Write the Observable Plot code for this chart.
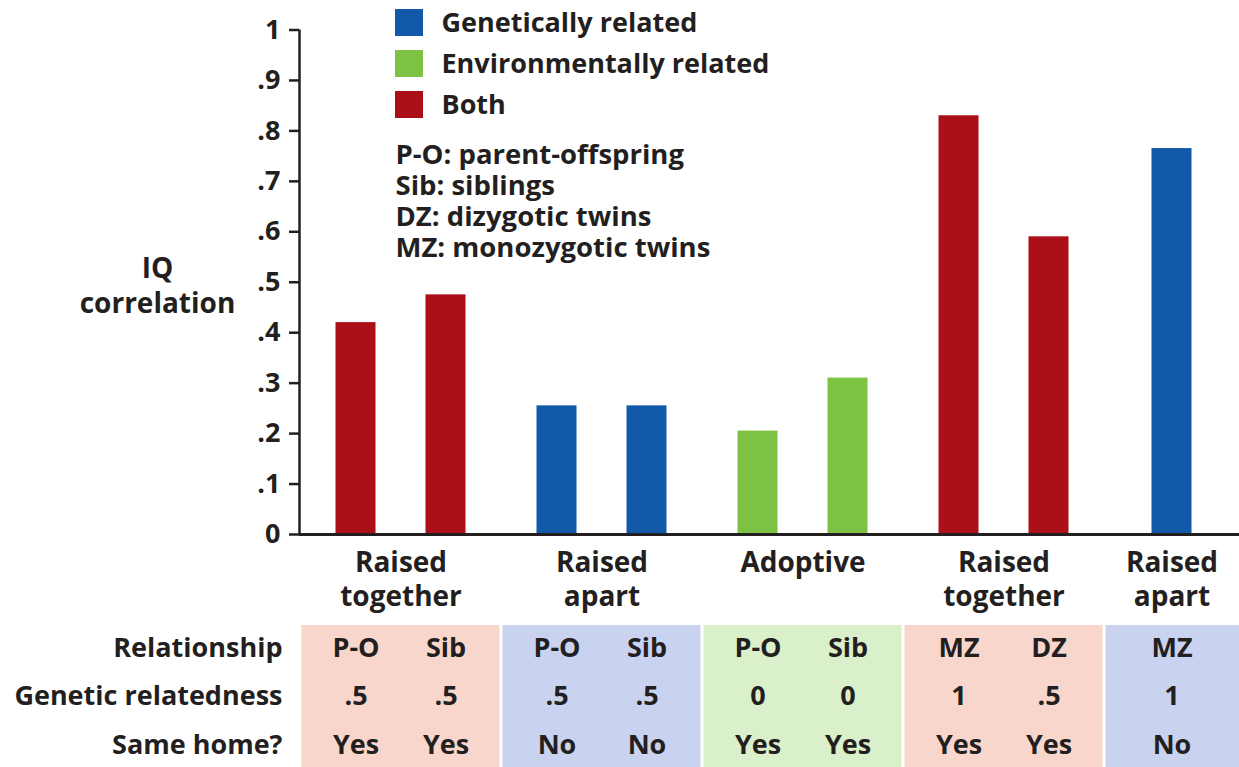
<!DOCTYPE html>
<html>
<head>
<meta charset="utf-8">
<script src="https://cdn.jsdelivr.net/npm/d3@7"></script>
<script src="https://cdn.jsdelivr.net/npm/@observablehq/plot@0.6"></script>
<style>
  html, body { margin: 0; padding: 0; background: #fff; }
  #chart svg text { font-weight: 700; }
</style>
</head>
<body>
<div id="chart"></div>
<script>
// ---------------- data ----------------
const groups = ["Raised\ntogether", "Raised\napart", "Adoptive", "Raised\ntogether", "Raised\napart"];
const groupKind = ["Both", "Genetically related", "Environmentally related", "Both", "Genetically related"];
const relationship = ["P-O", "Sib", "P-O", "Sib", "P-O", "Sib", "MZ", "DZ", "MZ"];
const barGroup = [0, 0, 1, 1, 2, 2, 3, 3, 4];
const correlation = [0.42, 0.475, 0.255, 0.255, 0.205, 0.31, 0.83, 0.59, 0.765];
const geneticRelatedness = [".5", ".5", ".5", ".5", "0", "0", "1", ".5", "1"];
const sameHome = ["Yes", "Yes", "No", "No", "Yes", "Yes", "Yes", "Yes", "No"];
const categories = ["Genetically related", "Environmentally related", "Both"];
const yTicks = [0, 0.1, 0.2, 0.3, 0.4, 0.5, 0.6, 0.7, 0.8, 0.9, 1];
const yTickLabels = ["0", ".1", ".2", ".3", ".4", ".5", ".6", ".7", ".8", ".9", "1"];
const definitions = ["P-O: parent-offspring", "Sib: siblings", "DZ: dizygotic twins", "MZ: monozygotic twins"];
const rowLabels = ["Relationship", "Genetic relatedness", "Same home?"];
const yLabel = "IQ\ncorrelation";

// ---------------- styles ----------------
const colors = ["#1259a9", "#7dc243", "#ab0f17"];
const tableFill = {"Both": "#f9d6cc", "Genetically related": "#c9d2ef", "Environmentally related": "#d9f0ca"};
const INK = "#231f20";
const FONT = "'Open Sans', sans-serif";

// ---------------- layout ----------------
const W = 1239, H = 767;
const AXIS_X = 299, Y0 = 534, Y1 = 29.5;
const COL0 = 400.5, PITCH = 201;
const xu = px => (px - COL0) / PITCH;           // pixel -> x units (columns)
const yu = py => (Y0 - py) / (Y0 - Y1);          // pixel -> y units
const xMin = xu(AXIS_X), xMax = xu(W);
const OFFSET = 90 / PITCH, BARW = 40 / PITCH, GAP = 1.5 / PITCH;
const groupCenter = groups.map((g, k) => k < groups.length - 1 ? k : (k - 0.5 + xMax) / 2);
const rowY = [648, 696, 745];

const bars = relationship.map((r, i) => {
  const g = barGroup[i];
  const n = barGroup.filter(b => b === g).length;
  const j = barGroup.slice(0, i).filter(b => b === g).length;
  return {
    rel: r, g, value: correlation[i], kind: groupKind[g],
    gen: geneticRelatedness[i], home: sameHome[i],
    cx: groupCenter[g] + (j - (n - 1) / 2) * OFFSET
  };
});
const boxes = groups.map((g, k) => ({
  x1: k - 0.5 + GAP,
  x2: Math.min(k + 0.5 - GAP, xMax),
  fill: tableFill[groupKind[k]]
}));

const chart = Plot.plot({
  width: W, height: H,
  marginLeft: AXIS_X, marginRight: 0, marginTop: Y1, marginBottom: H - Y0,
  x: {type: "linear", domain: [xMin, xMax], axis: null},
  y: {domain: [0, 1], axis: null},
  color: {domain: categories, range: colors},
  style: {fontFamily: FONT, fontWeight: "bold", color: INK, background: "white", overflow: "visible"},
  marks: [
    // table backgrounds
    Plot.rect(boxes, {x1: "x1", x2: "x2", y1: yu(767), y2: yu(625), fill: d => d.fill}),
    // bars
    Plot.rect(bars, {x1: d => d.cx - BARW / 2, x2: d => d.cx + BARW / 2, y1: 0, y2: "value", fill: "kind"}),
    // axes
    Plot.axisY(yTicks, {
      tickFormat: d => yTickLabels[yTicks.indexOf(d)],
      tickSize: 10, tickPadding: 9, fontSize: 27, strokeWidth: 2.5, stroke: INK, fill: INK, label: null
    }),
    Plot.ruleX([xMin], {y1: 0, y2: 1, stroke: INK, strokeWidth: 2.5}),
    Plot.ruleY([0], {stroke: INK, strokeWidth: 3}),
    // y label
    Plot.text([yLabel], {x: xu(157), y: yu(284), text: d => d, fontSize: 28, lineHeight: 1.22, fill: INK}),
    // legend
    Plot.rect(categories, {x1: xu(395), x2: xu(423), y1: (d, i) => yu(36 + 41 * i), y2: (d, i) => yu(9 + 41 * i), fill: d => d}),
    Plot.text(categories, {x: xu(441), y: (d, i) => yu(22.5 + 41 * i), text: d => d, textAnchor: "start", fontSize: 27, fill: INK}),
    // definitions (one multi-line text block)
    Plot.text([definitions.join("\n")], {x: xu(395), y: yu(142), text: d => d, textAnchor: "start", lineAnchor: "top", fontSize: 27.5, lineHeight: 1.12, fill: INK}),
    // group labels
    Plot.text(groups, {x: (d, i) => groupCenter[i], y: 0, dy: 13, lineAnchor: "top", text: d => d, fontSize: 28, lineHeight: 1.22, fill: INK}),
    // table
    Plot.text(rowLabels, {x: xu(282), y: (d, i) => yu(rowY[i]), text: d => d, textAnchor: "end", fontSize: 27, fill: INK}),
    Plot.text(bars, {x: "cx", y: yu(rowY[0]), text: "rel", fontSize: 27, fill: INK}),
    Plot.text(bars, {x: "cx", y: yu(rowY[1]), text: "gen", fontSize: 27, fill: INK}),
    Plot.text(bars, {x: "cx", y: yu(rowY[2]), text: "home", fontSize: 27, fill: INK})
  ]
});
document.getElementById("chart").append(chart);
</script>
</body>
</html>
